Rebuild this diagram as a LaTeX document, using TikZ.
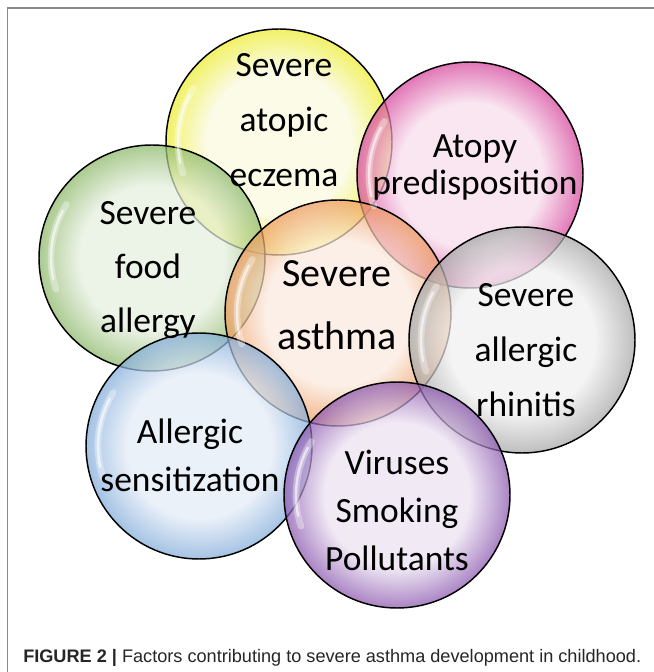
\documentclass[tikz,border=0pt]{standalone}
\usepackage{fontspec}
\usetikzlibrary{calc}
\newfontfamily\bubblefont{Carlito}
\newfontfamily\capfont{Liberation Sans}
\definecolor{FrameGray}{HTML}{8A8A8A}
\definecolor{YelIn}{HTML}{FAFADF}
\definecolor{YelOut}{HTML}{EDED2E}
\definecolor{PnkIn}{HTML}{F8DDEC}
\definecolor{PnkOut}{HTML}{D6449C}
\definecolor{GrnIn}{HTML}{E6EFDF}
\definecolor{GrnOut}{HTML}{8CB868}
\definecolor{OrgIn}{HTML}{FBEADF}
\definecolor{OrgOut}{HTML}{EE9A5C}
\definecolor{GryIn}{HTML}{F1F1F1}
\definecolor{GryOut}{HTML}{A6A6A6}
\definecolor{BluIn}{HTML}{E4ECF7}
\definecolor{BluOut}{HTML}{82ACDA}
\definecolor{PurIn}{HTML}{ECE2F2}
\definecolor{PurOut}{HTML}{8A55AE}
\colorlet{bubin}{white}
\colorlet{bubout}{gray}
\pgfdeclareradialshading[bubin,bubout]{bubble}{\pgfpointorigin}{color(0bp)=(bubin); color(16bp)=(bubin); color(25bp)=(bubout); color(50bp)=(bubout)}

\begin{document}
\begin{tikzpicture}[x=0.75pt, y=0.75pt,
    bubble/.style 2 args={circle, draw=black, line width=1.1pt, minimum size=169.5pt, inner sep=0pt,
      fill opacity=0.72, /utils/exec={\colorlet{bubin}{#1}\colorlet{bubout}{#2}}, shade, shading=bubble},
    bubtext/.style 2 args={font={\bubblefont\fontsize{#1}{#2}\selectfont}, align=center, inner sep=0pt},
    glint/.style={white, line width=5pt, opacity=0.35, line cap=round},
    glintcore/.style={white, line width=1.8pt, opacity=0.6, line cap=round}
  ]
    \useasboundingbox[fill=white] (0,0) rectangle (654,672);
    \draw[FrameGray, line width=1.2pt] (7.5,0) |- (654,664);

    % bubbles
    \node[bubble={YelIn}{YelOut}] (yel) at (279,530) {};
    \node[bubble={PnkIn}{PnkOut}] (pnk) at (470,497) {};
    \node[bubble={GrnIn}{GrnOut}] (grn) at (152,414) {};
    \node[bubble={OrgIn}{OrgOut}] (org) at (338,359) {};
    \node[bubble={GryIn}{GryOut}] (gry) at (522,332) {};
    \node[bubble={BluIn}{BluOut}] (blu) at (199,226) {};
    \node[bubble={PurIn}{PurOut}] (pur) at (397,177) {};

    \foreach \b in {yel,pnk,grn,org,gry,blu,pur}{
      \draw[glint] ($(\b.center)+(148:101)$) arc[start angle=148, end angle=198, radius=101];
      \draw[glintcore] ($(\b.center)+(152:101)$) arc[start angle=152, end angle=192, radius=101];
    }

    % labels
    \node[bubtext={26.6pt}{41.25pt}] (yeltxt) at (284,552) {Severe\\atopic\\eczema};
    \node[bubtext={26.6pt}{27.75pt}] (pnktxt) at (475,505) {Atopy\\predisposition};
    \node[bubtext={26.6pt}{40.5pt}] (grntxt) at (148,402) {Severe\\food\\allergy};
    \node[bubtext={30pt}{47.25pt}] (orgtxt) at (337,366.5) {Severe\\asthma};
    \node[bubtext={26.6pt}{41.25pt}] (grytxt) at (526,322) {Severe\\allergic\\rhinitis};
    \node[bubtext={26.6pt}{36pt}] (blutxt) at (190,216.5) {Allergic\\sensitization};
    \node[bubtext={26.6pt}{36pt}] (purtxt) at (397,162) {Viruses\\Smoking\\Pollutants};

    \node[anchor=base west, inner sep=0pt, font=\capfont\fontsize{13.6pt}{16pt}\selectfont, text=black!85] (cap) at (23,10)
      {\textbf{FIGURE 2 |} Factors contributing to severe asthma development in childhood.};
\end{tikzpicture}
\end{document}
